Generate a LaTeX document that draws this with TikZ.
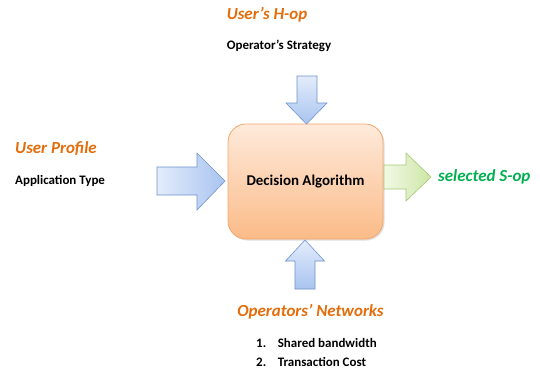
\documentclass[tikz,border=0pt]{standalone}
\usepackage{fontspec}
\setmainfont{Carlito}
\usetikzlibrary{shadows}
\definecolor{ttlorange}{HTML}{E46C0A}
\definecolor{selgreen}{HTML}{00B050}
\definecolor{boxtop}{HTML}{FEEADB}
\definecolor{boxbot}{HTML}{FBBB88}
\definecolor{boxline}{HTML}{F5A66A}
\definecolor{bluetop}{HTML}{E3ECFB}
\definecolor{bluebot}{HTML}{A9C4F0}
\definecolor{blueline}{HTML}{6E93CC}
\definecolor{greentop}{HTML}{F2F9E6}
\definecolor{greenbot}{HTML}{CDE6A5}
\definecolor{greenline}{HTML}{A6C875}
\tikzset{
  title/.style={font=\fontsize{17}{19}\selectfont\bfseries\itshape, text=ttlorange, inner sep=0pt},
  body/.style={font=\fontsize{13}{15}\selectfont\bfseries, text=black, inner sep=0pt},
  bluearrow/.style={draw=blueline, line width=0.6pt, line join=miter, top color=bluetop, bottom color=bluebot},
  bluearrowh/.style={draw=blueline, line width=0.6pt, line join=miter, left color=bluetop, right color=bluebot},
  greenarrow/.style={draw=greenline, line width=0.6pt, left color=greentop, right color=greenbot},
}
\begin{document}
\begin{tikzpicture}[x=1bp,y=-1bp]
\useasboundingbox (0,0) rectangle (540,373);
% decision box
\node[draw=boxline, line width=0.8pt, rounded corners=18bp, minimum width=155bp, minimum height=115bp,
  top color=boxtop, bottom color=boxbot, drop shadow={opacity=0.25, shadow xshift=1.5bp, shadow yshift=-1.5bp},
  font=\fontsize{15}{17}\selectfont\bfseries] (alg) at (305.5,181.5) {Decision Algorithm};
% top arrow
\draw[bluearrow] (297,76) -- (317,76) -- (317,103) -- (327,103) -- (306.5,124) -- (286,103) -- (297,103) -- cycle;
% left arrow
\draw[bluearrowh] (157,167) -- (197,167) -- (197,153) -- (225,181) -- (197,210) -- (197,195) -- (157,195) -- cycle;
% bottom arrow
\draw[bluearrow] (295,289) -- (315,289) -- (315,261) -- (324.5,261) -- (305,240) -- (285.5,261) -- (295,261) -- cycle;
% right arrow
\draw[greenarrow] (384,165) -- (406,165) -- (406,153) -- (431,177) -- (406,201) -- (406,189) -- (384,189) -- cycle;
% texts
\node[title] (hop) at (267,15) {User’s H-op};
\node[body] (strat) at (279,46) {Operator’s Strategy};
\node[title, anchor=west] (prof) at (15,149) {User Profile};
\node[body, anchor=west] (app) at (15,181) {Application Type};
\node[title, text=selgreen, anchor=west] (sel) at (438,177) {selected S-op};
\node[title] (net) at (310.5,312) {Operators’ Networks};
\node[body, anchor=west] (i1) at (256,343) {1.\hspace{0.9em}Shared bandwidth};
\node[body, anchor=west] (i2) at (256,362) {2.\hspace{0.9em}Transaction Cost};
\end{tikzpicture}
\end{document}
